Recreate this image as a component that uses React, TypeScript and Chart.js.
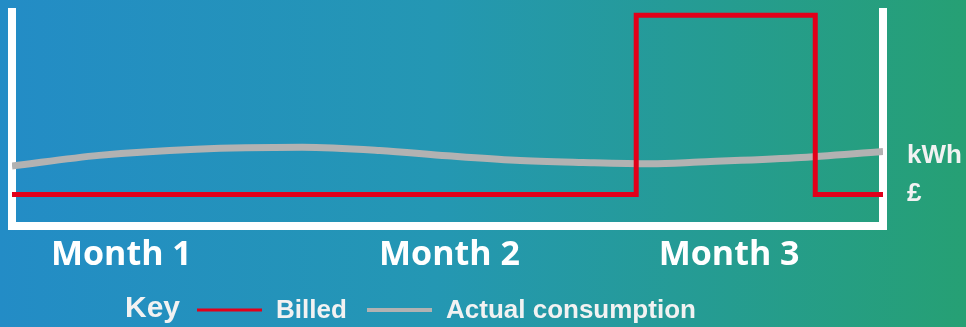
import { useEffect, useRef } from "react";
import { Chart, registerables } from "chart.js";

Chart.register(...registerables);

// Horizontal axis runs over three billing months, measured in days (0–90).
const monthLabels = ["Month 1", "Month 2", "Month 3"];
const monthTickDays = [11.3, 45.2, 74.1];

// Billed amount: flat, then one large catch-up bill in month 3.
const billedDays = [0, 64.5, 64.5, 83, 83, 90];
const billedLevels = [14.7, 14.7, 98.5, 98.5, 14.7, 14.7];

// Actual consumption: gentle seasonal wave.
const usageDays = [0, 9, 19, 30, 38, 45, 52, 59, 66, 71, 81, 90];
const usageLevels = [28.0, 33.0, 35.9, 36.8, 35.3, 32.8, 30.7, 29.7, 29.1, 29.9, 31.9, 34.8];

// Unit labels on the right-hand axis.
const unitLabels = ["kWh", "£"];
const unitTickLevels = [33.0, 15.1];

const seriesNames = ["Billed", "Actual consumption"];
const seriesColors = ["#e2001a", "#b2b2b2"];

const WIDTH = 966;
const HEIGHT = 327;

const keyRow = {
  id: "keyRow",
  afterDraw(chart: any) {
    const ctx: CanvasRenderingContext2D = chart.ctx;
    ctx.save();
    ctx.textBaseline = "alphabetic";
    ctx.textAlign = "left";
    ctx.fillStyle = "#f2f2f2";
    ctx.font = "bold 30px 'Liberation Sans', Arial, sans-serif";
    ctx.fillText("Key", 125, 317);
    ctx.font = "bold 26px 'Liberation Sans', Arial, sans-serif";
    const slots = [
      { lineX: 197, lineW: 65, lineH: 3, textX: 276 },
      { lineX: 367, lineW: 65, lineH: 4, textX: 446 },
    ];
    chart.data.datasets.forEach((ds: any, i: number) => {
      const s = slots[i];
      ctx.fillStyle = ds.borderColor;
      ctx.fillRect(s.lineX, 310 - s.lineH / 2, s.lineW, s.lineH);
      ctx.fillStyle = "#f2f2f2";
      ctx.fillText(ds.label, s.textX, 318);
    });
    ctx.restore();
  },
};

// Keep the plot frame fixed: no extra room reserved for edge labels.
const noEdgePadding = (scale: any) => {
  scale.paddingTop = 0;
  scale.paddingBottom = 0;
  scale.paddingLeft = 0;
  scale.paddingRight = 0;
};

export default function App() {
  const canvasRef = useRef<HTMLCanvasElement | null>(null);

  useEffect(() => {
    document.body.style.margin = "0";
    const canvas = canvasRef.current;
    if (!canvas) return;

    const axisBorder = { color: "#ffffff", width: 8 };

    const chart = new Chart(canvas, {
      type: "line",
      data: {
        datasets: [
          {
            label: seriesNames[0],
            data: billedDays.map((d, i) => ({ x: d, y: billedLevels[i] })),
            borderColor: seriesColors[0],
            backgroundColor: seriesColors[0],
            borderWidth: 5,
            pointRadius: 0,
            tension: 0,
            borderJoinStyle: "miter",
            borderCapStyle: "butt",
            fill: false,
          },
          {
            label: seriesNames[1],
            data: usageDays.map((d, i) => ({ x: d, y: usageLevels[i] })),
            borderColor: seriesColors[1],
            backgroundColor: seriesColors[1],
            borderWidth: 7,
            pointRadius: 0,
            cubicInterpolationMode: "monotone",
            fill: false,
          },
        ],
      },
      options: {
        animation: false,
        responsive: false,
        devicePixelRatio: 1,
        layout: { padding: { left: 12, right: 0, top: 12, bottom: 0 } },
        plugins: {
          legend: { display: false },
          tooltip: { enabled: false },
        },
        scales: {
          x: {
            type: "linear",
            min: 0,
            max: 90,
            z: 1,
            grid: { display: false, drawTicks: false, lineWidth: 8 },
            border: axisBorder,
            afterBuildTicks: (scale: any) => {
              scale.ticks = monthTickDays.map((v) => ({ value: v }));
            },
            afterFit: (scale: any) => {
              scale.height = HEIGHT - 226;
              noEdgePadding(scale);
            },
            ticks: {
              autoSkip: false,
              maxRotation: 0,
              minRotation: 0,
              padding: 9,
              color: "#ffffff",
              font: { family: "'Open Sans', sans-serif", weight: "bold", size: 34, lineHeight: 1.2 },
              callback: (_v: any, i: number) => monthLabels[i],
            },
          },
          y: {
            type: "linear",
            position: "left",
            min: 0,
            max: 100,
            z: 1,
            grid: { display: false, drawTicks: false, lineWidth: 8 },
            border: axisBorder,
            ticks: { display: false },
            afterFit: (scale: any) => {
              scale.width = 0;
              noEdgePadding(scale);
            },
          },
          y2: {
            type: "linear",
            position: "right",
            min: 0,
            max: 100,
            z: 1,
            grid: { display: false, drawTicks: false, lineWidth: 8 },
            border: axisBorder,
            afterBuildTicks: (scale: any) => {
              scale.ticks = unitTickLevels.map((v) => ({ value: v }));
            },
            afterFit: (scale: any) => {
              scale.width = WIDTH - 883;
              noEdgePadding(scale);
            },
            ticks: {
              padding: 24,
              color: "#f2f2f2",
              font: { family: "'Liberation Sans', Arial, sans-serif", weight: "bold", size: 26 },
              callback: (_v: any, i: number) => unitLabels[i],
            },
          },
        },
      },
      plugins: [keyRow],
    });

    return () => chart.destroy();
  }, []);

  return (
    <div
      style={{
        width: WIDTH,
        height: HEIGHT,
        background: "linear-gradient(90deg, #238cc6 0%, #2497b3 45%, #26a074 100%)",
      }}
    >
      <canvas ref={canvasRef} width={WIDTH} height={HEIGHT} style={{ display: "block" }} />
    </div>
  );
}
